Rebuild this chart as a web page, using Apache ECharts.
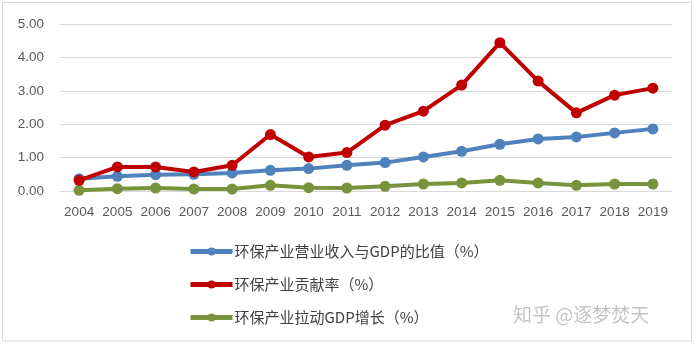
<!DOCTYPE html>
<html>
<head>
<meta charset="utf-8">
<script src="https://cdn.jsdelivr.net/npm/echarts@6/dist/echarts.min.js"></script>
<style>
  html, body { margin: 0; padding: 0; background: #ffffff; }
  #chart { width: 696px; height: 344px; }
</style>
</head>
<body>
<div id="chart"></div>
<script>
// Years on the category axis
const years = ['2004','2005','2006','2007','2008','2009','2010','2011','2012','2013','2014','2015','2016','2017','2018','2019'];

// 环保产业营业收入与GDP的比值（%）
const revenueRatio = [0.37, 0.44, 0.49, 0.50, 0.54, 0.62, 0.67, 0.77, 0.85, 1.02, 1.19, 1.40, 1.56, 1.62, 1.74, 1.86];
// 环保产业贡献率（%）
const contributionRate = [0.32, 0.72, 0.72, 0.57, 0.77, 1.69, 1.02, 1.15, 1.97, 2.39, 3.17, 4.44, 3.29, 2.34, 2.87, 3.08];
// 环保产业拉动GDP增长（%）
const gdpPull = [0.02, 0.07, 0.09, 0.06, 0.06, 0.17, 0.10, 0.09, 0.14, 0.21, 0.24, 0.32, 0.24, 0.17, 0.21, 0.21];

const seriesNames = ['环保产业营业收入与GDP的比值（%）', '环保产业贡献率（%）', '环保产业拉动GDP增长（%）'];
const seriesColors = ['#4F81BD', '#C00000', '#77933C'];
const seriesData = [revenueRatio, contributionRate, gdpPull];

const chart = echarts.init(document.getElementById('chart'), null, { renderer: 'canvas' });

const lineSeries = seriesData.map((data, i) => ({
  name: seriesNames[i],
  type: 'line',
  data: data,
  symbol: 'circle',
  symbolSize: 11,
  lineStyle: { width: 4, color: seriesColors[i] },
  itemStyle: { color: seriesColors[i] },
  z: [2, 3, 1][i]
}));

chart.setOption({
  animation: false,
  backgroundColor: '#ffffff',
  grid: { left: 60, right: 24, top: 24, bottom: 153 },
  xAxis: {
    type: 'category',
    data: years,
    boundaryGap: true,
    axisLine: { show: true, lineStyle: { color: '#d9d9d9', width: 1 } },
    axisTick: { show: false },
    axisLabel: { interval: 0, color: '#595959', fontFamily: 'Liberation Sans', fontSize: 13.5, margin: 14 }
  },
  yAxis: {
    type: 'value',
    min: 0,
    max: 5,
    interval: 1,
    axisLine: { show: false },
    axisTick: { show: false },
    splitLine: { lineStyle: { color: '#d9d9d9', width: 1 } },
    axisLabel: {
      color: '#595959', fontFamily: 'Liberation Sans', fontSize: 13.5, margin: 16,
      formatter: v => v.toFixed(2)
    }
  },
  legend: {
    orient: 'vertical',
    left: 183,
    top: 239,
    itemWidth: 42,
    itemHeight: 10,
    itemGap: 18,
    data: seriesNames,
    lineStyle: { width: 5 },
    textStyle: { color: '#404040', fontFamily: 'Noto Sans CJK SC', fontSize: 15, padding: [0, 0, 0, -3] }
  },
  graphic: [
    {
      type: 'rect',
      shape: { x: 2.5, y: 2.5, width: 689, height: 338.5 },
      style: { fill: 'none', stroke: '#d9d9d9', lineWidth: 1 },
      z: -1
    },
    {
      type: 'text',
      left: 513,
      top: 305,
      style: {
        text: '知乎 @逐梦焚天',
        fill: '#c4c4c4',
        font: '19px "Noto Sans CJK SC"'
      }
    }
  ],
  series: lineSeries
});
</script>
</body>
</html>
